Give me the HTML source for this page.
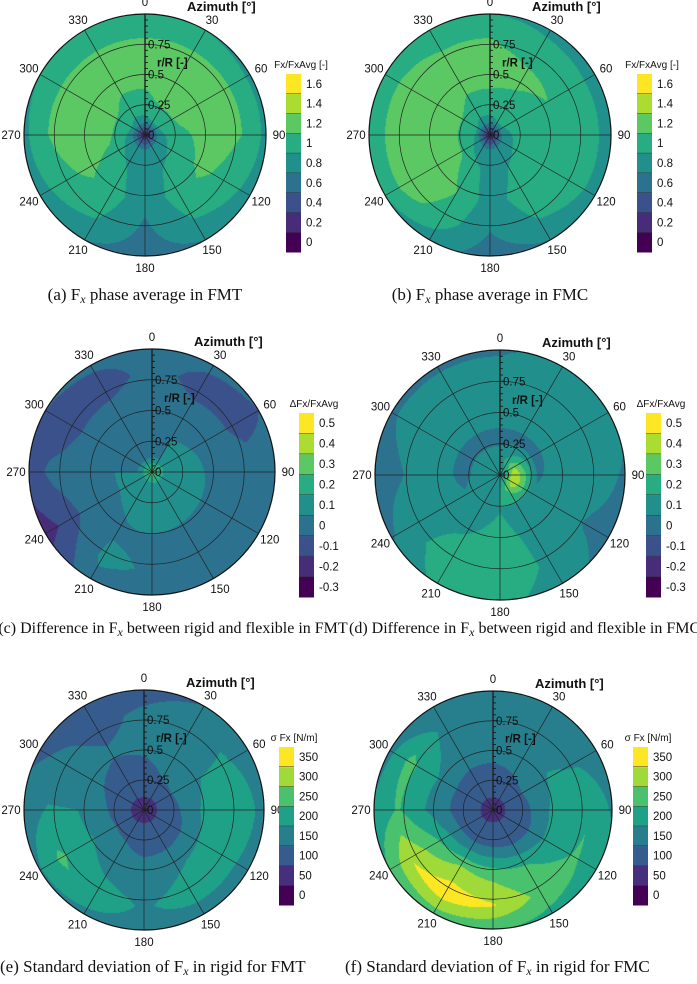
<!DOCTYPE html>
<html><head><meta charset="utf-8"><style>
body{margin:0;background:#fff;width:697px;height:984px;position:relative;overflow:hidden;font-family:"Liberation Sans",sans-serif}
canvas{position:absolute}
svg{position:absolute;left:0;top:0}
.cap{position:absolute;font-family:"Liberation Serif",serif;font-size:17px;color:#111;white-space:nowrap;text-align:center}
.cap i{font-size:12px;position:relative;top:3px}
</style></head><body>
<div id="root"></div>
<svg id="ov" width="697" height="984"></svg>
<div class="cap" style="left:0;width:290px;top:285px">(a) F<i>x</i> phase average in FMT</div>
<div class="cap" style="left:345px;width:290px;top:285px">(b) F<i>x</i> phase average in FMC</div>
<div class="cap" style="left:-2px;width:350px;top:620px;font-size:16px">(c) Difference in F<i>x</i> between rigid and flexible in FMT</div>
<div class="cap" style="left:349px;width:350px;top:620px;font-size:16px">(d) Difference in F<i>x</i> between rigid and flexible in FMC</div>
<div class="cap" style="left:0;width:300px;top:957px">(e) Standard deviation of F<i>x</i> in rigid for FMT</div>
<div class="cap" style="left:345px;width:300px;top:957px">(f) Standard deviation of F<i>x</i> in rigid for FMC</div>
<script>
const azimuths=[0,30,60,90,120,150,180,210,240,270,300,330];
const radii=[0,0.12,0.3,0.55,0.8,1.0];
const fieldA=[
[0.1,0.1,0.1,0.1,0.1,0.1,0.1,0.1,0.1,0.1,0.1,0.1],
[0.85,0.9,0.9,0.85,0.8,0.75,0.7,0.75,0.8,0.85,0.9,0.85],
[1.05,1.15,1.15,1.05,1.0,0.9,0.8,0.9,1.05,1.15,1.15,1.05],
[1.2,1.25,1.25,1.2,1.15,1.0,0.75,1.0,1.15,1.25,1.25,1.2],
[1.1,1.1,1.1,1.1,1.0,0.9,0.65,0.9,1.0,1.1,1.1,1.1],
[0.9,0.9,0.85,0.85,0.8,0.7,0.6,0.7,0.8,0.85,0.9,0.9]];
const fieldB=[
[0.1,0.1,0.1,0.1,0.1,0.1,0.1,0.1,0.1,0.1,0.1,0.1],
[0.85,0.9,0.9,0.85,0.8,0.75,0.7,0.75,0.85,0.9,0.9,0.85],
[1.05,1.05,1.0,1.0,1.0,0.9,0.8,1.0,1.15,1.15,1.15,1.05],
[1.2,1.15,1.1,1.1,1.1,1.0,0.8,1.1,1.3,1.3,1.3,1.2],
[1.1,1.0,1.0,1.0,1.0,0.9,0.7,1.0,1.2,1.2,1.2,1.1],
[0.9,0.85,0.8,0.8,0.8,0.7,0.6,0.8,0.9,0.9,0.9,0.9]];
const fieldC=[
[0.3,0.3,0.3,0.3,0.3,0.3,0.3,0.3,0.3,0.3,0.3,0.3],
[0.05,0.05,0.1,0.1,0.1,0.1,0.1,0.05,0.05,0.05,0.02,0.02],
[0.02,0.05,0.06,0.08,0.1,0.1,0.1,0.06,0.05,0.05,0.02,0.02],
[0.02,0,0.02,0.02,0.02,0.03,0.04,0.04,0.02,0,0,0.02],
[0,-0.1,-0.1,0.02,0.02,0.02,0.04,0.07,-0.12,-0.02,-0.12,-0.12],
[0,-0.02,-0.05,0.02,0.02,0,0,0.02,-0.2,-0.1,-0.05,-0.02]];
const fieldD=[
[0.1,0.1,0.1,0.1,0.1,0.1,0.1,0.1,0.1,0.1,0.1,0.1],
[0.1,0.2,0.35,0.45,0.45,0.3,0.15,0.1,0.1,0.1,0.1,0.1],
[0.02,0.02,0.02,0.04,0.06,0.1,0.15,0.1,0.06,0.02,0.02,0.02],
[0.12,0.12,0.12,0.1,0.1,0.12,0.2,0.15,0.12,0.12,0.12,0.12],
[0.08,0.12,0.12,0.08,0.04,0.12,0.25,0.22,0.1,0.04,0.08,0.08],
[0.04,0.07,0.07,0.04,0.02,0.08,0.2,0.18,0.04,0,0.04,0.04]];
const fieldE=[
[30,30,30,30,30,30,30,30,30,30,30,30],
[80,80,80,80,80,80,80,80,80,80,80,80],
[110,125,135,125,110,105,110,125,135,125,115,105],
[135,150,175,200,185,170,150,160,190,175,145,130],
[135,160,180,220,200,195,170,200,235,180,135,110],
[105,125,135,150,140,150,160,165,170,145,115,95]];
const fieldF=[
[40,40,40,40,40,40,40,40,40,40,40,40],
[80,80,80,80,80,80,80,80,80,80,80,80],
[110,120,130,120,110,110,120,120,120,110,110,110],
[150,150,180,200,200,230,260,280,240,170,180,150],
[170,170,170,220,230,260,330,360,320,230,240,160],
[130,140,140,170,190,210,230,250,230,180,160,130]];
const ticksA=["0","0.2","0.4","0.6","0.8","1","1.2","1.4","1.6"];
const ticksC=["-0.3","-0.2","-0.1","0","0.1","0.2","0.3","0.4","0.5"];
const ticksE=["0","50","100","150","200","250","300","350"];
const viridis=["#440154","#472c7a","#3b518b","#2c718e","#21908d","#27ad81","#5cc863","#aadc32","#fde725"];
const viridis8=["#440154","#46307e","#365c8d","#277f8e","#1fa187","#4ac16d","#a0da39","#fde725"];

const NS="http://www.w3.org/2000/svg";
const ov=document.getElementById('ov');
function mk(tag,attrs,parent){const e=document.createElementNS(NS,tag);for(const k in attrs)e.setAttribute(k,attrs[k]);(parent||ov).appendChild(e);return e;}
function txt(x,y,s,size,anchor,weight,parent){const t=mk('text',{x:x,y:y,'font-size':size,'text-anchor':anchor||'middle','font-weight':weight||'normal',fill:'#111','font-family':'Liberation Sans, sans-serif'},parent);t.textContent=s;return t;}

function sample(field,r,th){
  let ri=0;while(ri<radii.length-2&&r>radii[ri+1])ri++;
  const fr=Math.min(1,Math.max(0,(r-radii[ri])/(radii[ri+1]-radii[ri])));
  const n=azimuths.length,step=360/n;
  const a=th/step;const ai=Math.floor(a)%n;const fa=a-Math.floor(a);const aj=(ai+1)%n;
  const v0=field[ri][ai]*(1-fa)+field[ri][aj]*fa;
  const v1=field[ri+1][ai]*(1-fa)+field[ri+1][aj]*fa;
  return v0*(1-fr)+v1*fr;
}

function panel(p){
  const {id,cx,cy,R,field,lo,step,colors,ticks,cbx,cby0,cby1,cbTitle}=p;
  const cv=document.createElement('canvas');
  const sz=2*R+2;cv.width=sz;cv.height=sz;
  cv.style.left=(cx-R-1)+'px';cv.style.top=(cy-R-1)+'px';
  
  
  document.body.insertBefore(cv,ov);
  const ctx=cv.getContext('2d');const img=ctx.createImageData(sz,sz);
  const rgb=colors.map(c=>[parseInt(c.slice(1,3),16),parseInt(c.slice(3,5),16),parseInt(c.slice(5,7),16)]);
  for(let y=0;y<sz;y++)for(let x=0;x<sz;x++){
    const dx=x-R-1+0.5,dy=y-R-1+0.5;const d=Math.hypot(dx,dy);if(d>R)continue;
    let th=Math.atan2(dx,-dy)*180/Math.PI;if(th<0)th+=360;
    const v=sample(field,d/R,th);
    let b=Math.floor((v-lo)/step+0.5+1e-9);b=Math.max(0,Math.min(colors.length-1,b));
    const i=(y*sz+x)*4;img.data[i]=rgb[b][0];img.data[i+1]=rgb[b][1];img.data[i+2]=rgb[b][2];img.data[i+3]=255;
  }
  ctx.putImageData(img,0,0);
  const g=mk('g',{});
  
  
  [0.25,0.5,0.75].forEach(f=>mk('circle',{cx:cx,cy:cy,r:R*f,fill:'none',stroke:'#222','stroke-width':0.7},g));
  mk('circle',{cx:cx,cy:cy,r:R,fill:'none',stroke:'#111','stroke-width':1.2},g);
  for(let a=0;a<360;a+=30){const rad=a*Math.PI/180;
    mk('line',{x1:cx,y1:cy,x2:cx+R*Math.sin(rad),y2:cy-R*Math.cos(rad),stroke:'#222','stroke-width':a===0?1.4:0.7},g);
    const lx=cx+(R+13)*Math.sin(rad),ly=cy-(R+12)*Math.cos(rad)+4;
    const lab=txt(lx,ly,String(a),11.5,'middle','normal',g);
    
    
  }
  for(let k=0;k<=20;k++){const yy=cy-R*k/20;mk('line',{x1:cx,y1:yy,x2:cx+(k%5===0?5:3),y2:yy,stroke:'#111','stroke-width':0.8},g);}
  [["0",0],["0.25",0.25],["0.5",0.5],["0.75",0.75]].forEach(([s,f])=>{const t=txt(cx+3,cy-R*f+4,s,11.5,'start','normal',g);});
  const rl=txt(cx+12,cy-R*0.6+4,"r/R [-]",11.5,'start','bold',g);
  
  
  const at=txt(cx+42,cy-R-3,"Azimuth [°]",13,'start','bold',g);
  
  
  const cb=mk('g',{});
  
  
  const n=ticks.length;const bh=(cby1-cby0)/n;
  for(let i=0;i<n;i++){
    const y=cby1-(i+1)*bh;
    mk('rect',{x:cbx,y:y,width:15,height:bh+0.5,fill:colors[Math.min(colors.length-1,i)]},cb);
    txt(cbx+20,y+bh/2+4,ticks[i],11.5,'start','normal',cb);
    if(i>0)mk('line',{x1:cbx,y1:y+bh,x2:cbx+15,y2:y+bh,stroke:'#333','stroke-width':0.5},cb);
  }
  const ct=txt(cbx+15,cby0-6,cbTitle,10,'middle','normal',cb);
  
  
}
panel({id:'a',cx:145,cy:135,R:121,field:fieldA,lo:0,step:0.2,colors:viridis,ticks:ticksA,cbx:286,cby0:74,cby1:252,cbTitle:"Fx/FxAvg [-]"});
panel({id:'b',cx:490,cy:135,R:121,field:fieldB,lo:0,step:0.2,colors:viridis,ticks:ticksA,cbx:637,cby0:74,cby1:252,cbTitle:"Fx/FxAvg [-]"});
panel({id:'c',cx:152,cy:472,R:123,field:fieldC,lo:-0.3,step:0.1,colors:viridis,ticks:ticksC,cbx:299,cby0:413,cby1:597,cbTitle:"ΔFx/FxAvg"});
panel({id:'d',cx:500,cy:475,R:125,field:fieldD,lo:-0.3,step:0.1,colors:viridis,ticks:ticksC,cbx:646,cby0:413,cby1:597,cbTitle:"ΔFx/FxAvg"});
panel({id:'e',cx:144,cy:810,R:120,field:fieldE,lo:0,step:50,colors:viridis8,ticks:ticksE,cbx:279,cby0:747,cby1:905,cbTitle:"σ Fx [N/m]"});
panel({id:'f',cx:493,cy:810,R:119,field:fieldF,lo:0,step:50,colors:viridis8,ticks:ticksE,cbx:633,cby0:747,cby1:905,cbTitle:"σ Fx [N/m]"});
</script>
</body></html>
